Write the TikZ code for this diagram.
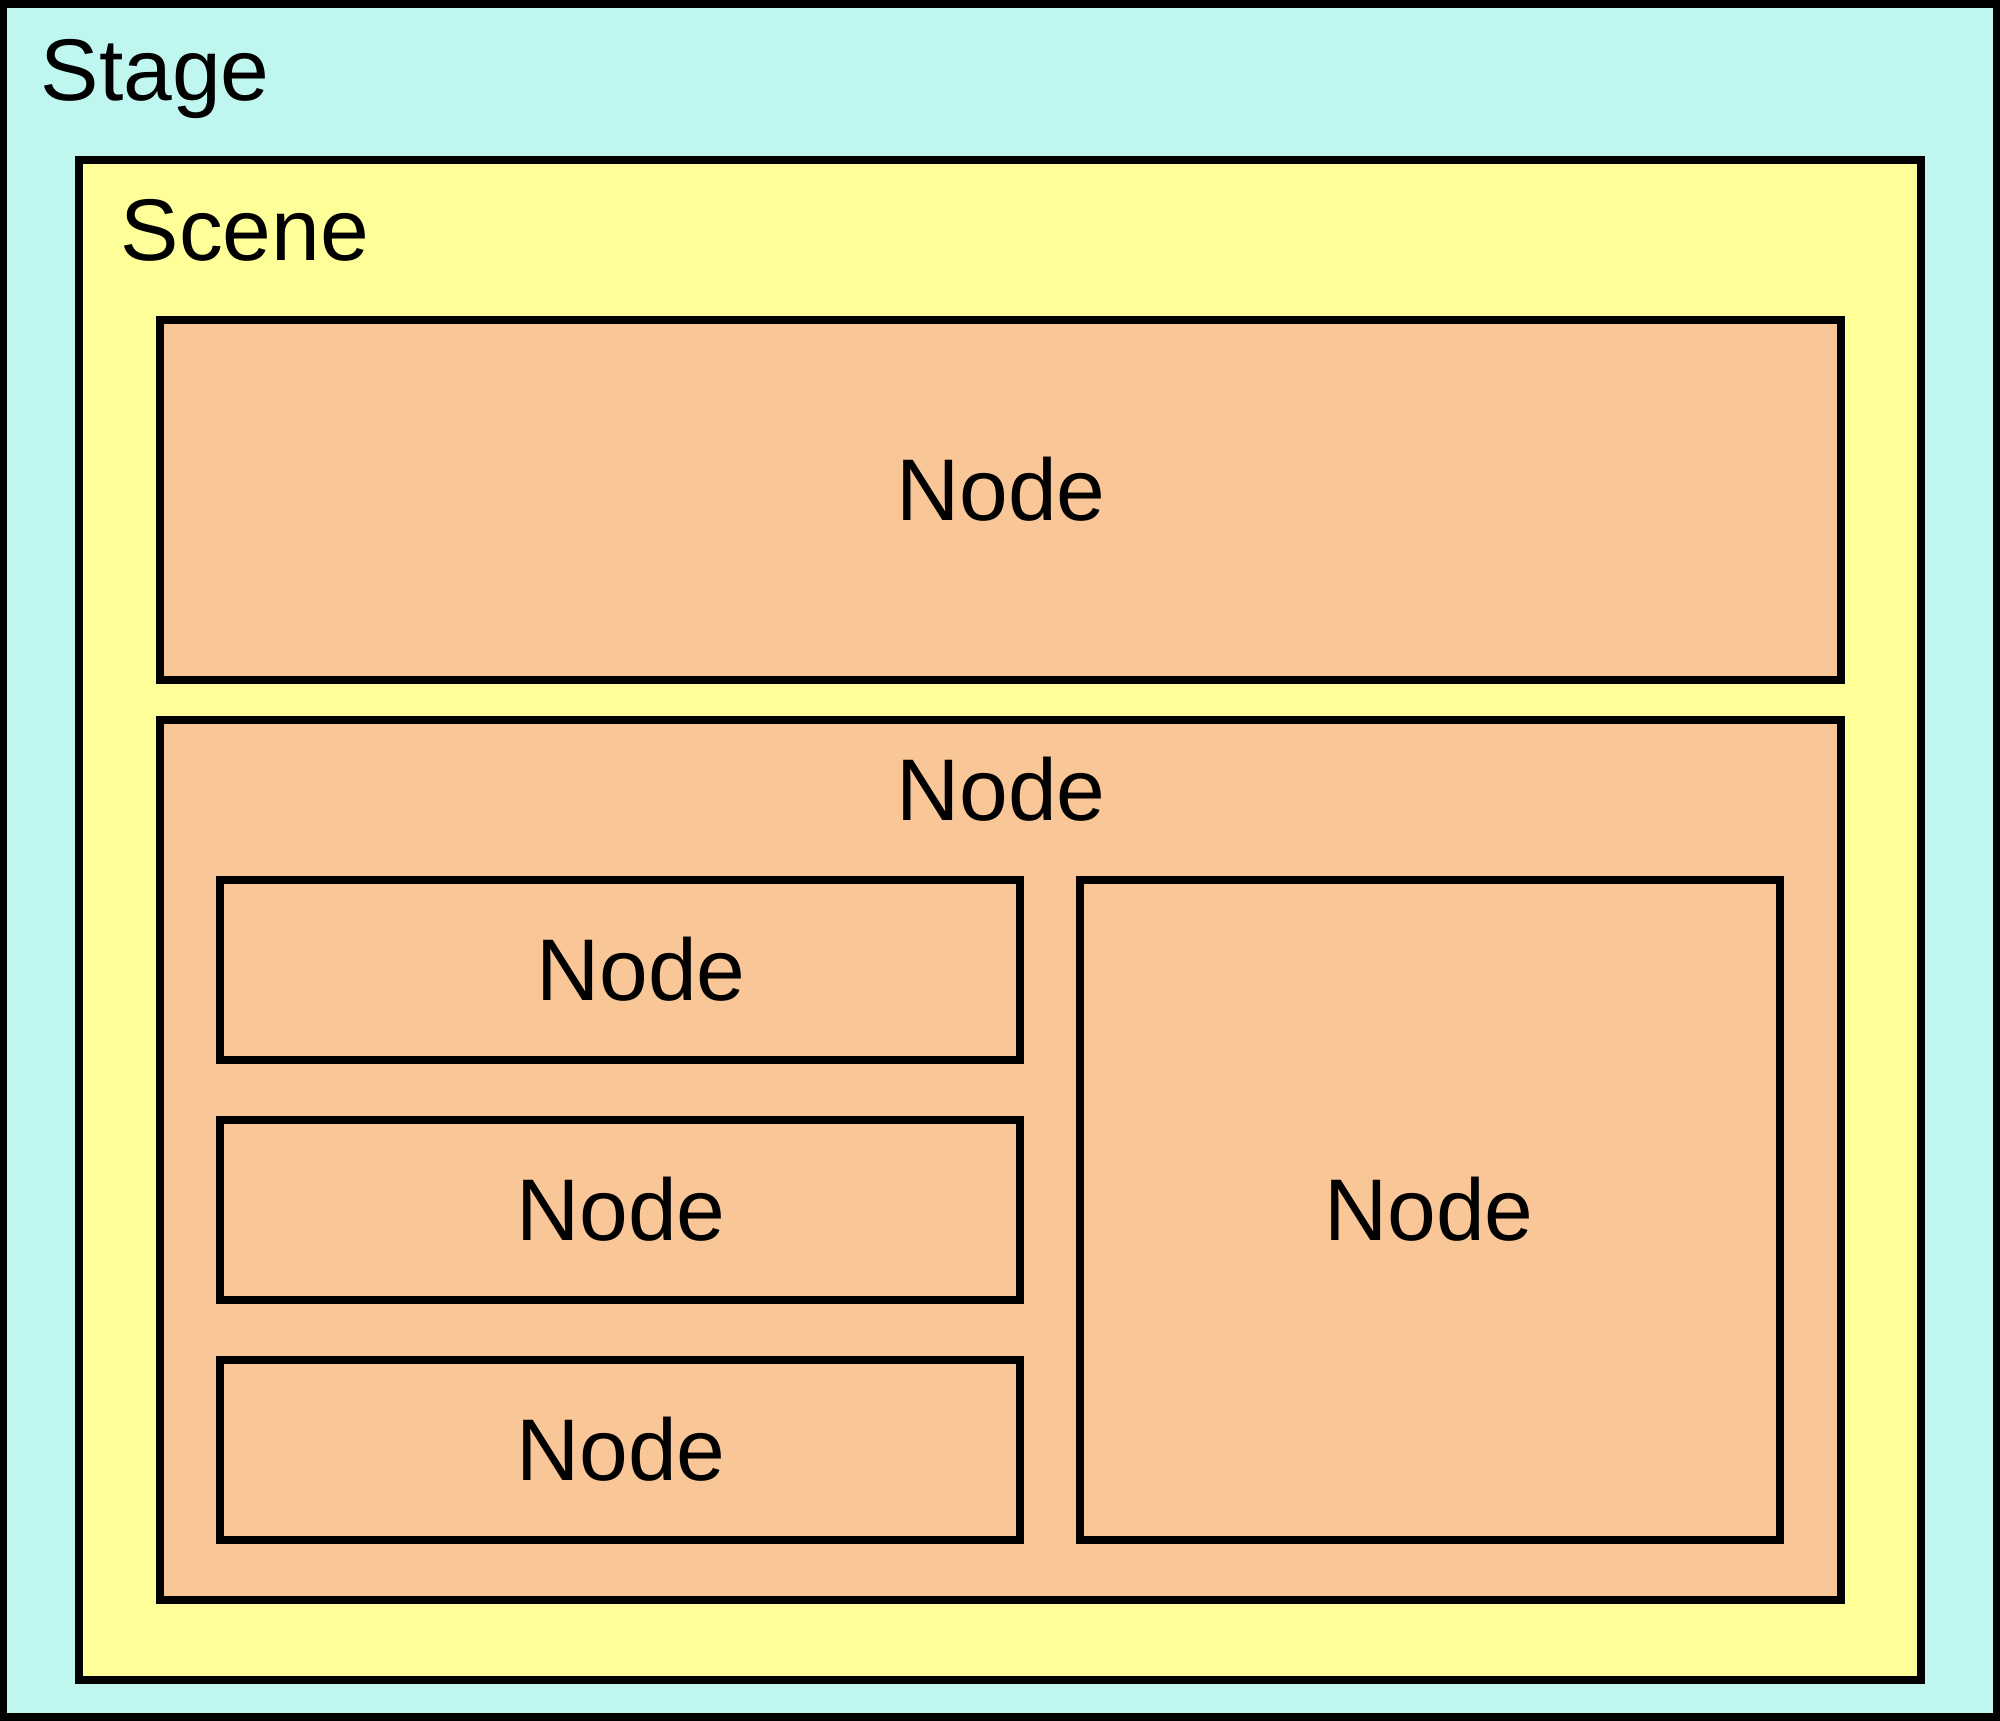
\documentclass[tikz,border=0pt]{standalone}
\usepackage{fontspec}
\setmainfont{Liberation Sans}
\definecolor{stagecyan}{RGB}{191,246,240}
\definecolor{sceneyellow}{RGB}{255,255,153}
\definecolor{nodepeach}{RGB}{248,198,151}
\begin{document}
\begin{tikzpicture}[x=0.01cm,y=-0.01cm,
    box/.style 2 args={draw=black,line width=0.08cm,inner sep=0pt,outer sep=0pt,
      minimum width=#1cm,minimum height=#2cm},
    lbl/.style={inner sep=0pt,anchor=base,font=\fontsize{24.9}{29}\selectfont}]
  \useasboundingbox (0,0) rectangle (2000,1720);
  % containers: stage > scene > nodes
  \node[box={19.92}{17.12},fill=stagecyan] (stage) at (1000,860) {};
  \node[box={18.4}{15.2},fill=sceneyellow] (scene) at (1000,920) {};
  \node[box={16.8}{3.6},fill=nodepeach] (top) at (1000,500) {};
  \node[box={16.8}{8.8},fill=nodepeach] (group) at (1000,1160) {};
  % children of the group node
  \foreach \name/\y in {childa/970, childb/1210, childc/1450}
    \node[box={8}{1.8},fill=nodepeach] (\name) at (620,\y) {};
  \node[box={7}{6.6},fill=nodepeach] (childd) at (1430,1210) {};
  % titles
  \node[lbl,anchor=base west] (stagetxt) at (40,100) {Stage};
  \node[lbl,anchor=base west] (scenetxt) at (120,260) {Scene};
  \node[lbl] (toptxt) at (1001,520) {Node};
  \node[lbl] (grouptxt) at (1001,820) {Node};
  \node[lbl] (childatxt) at (641,1000) {Node};
  \node[lbl] (childbtxt) at (621,1240) {Node};
  \node[lbl] (childctxt) at (621,1480) {Node};
  \node[lbl] (childdtxt) at (1429,1240) {Node};
\end{tikzpicture}
\end{document}
